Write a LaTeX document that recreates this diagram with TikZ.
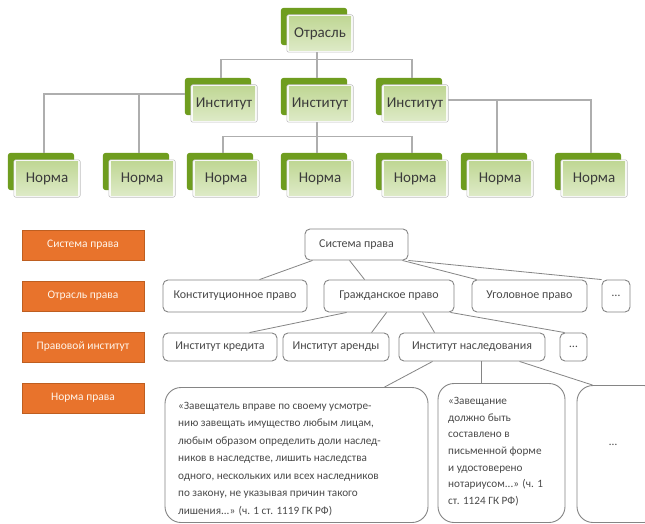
\documentclass[tikz,border=0pt]{standalone}
\usepackage{fontspec}
\setmainfont{Carlito}
\definecolor{gdark}{HTML}{6F9D1F}
\definecolor{gtop}{HTML}{C0D795}
\definecolor{gbot}{HTML}{DDEAC6}
\definecolor{tline}{HTML}{AEAEAE}
\definecolor{bline}{HTML}{858585}
\definecolor{orfill}{HTML}{E8732C}
\definecolor{ordraw}{HTML}{BE5E20}
\definecolor{txt}{HTML}{4A4A4A}
\begin{document}
\begin{tikzpicture}[x=1pt,y=-1pt,
  gframe/.style={rectangle,minimum width=72pt,minimum height=44pt,inner sep=0pt},
  gback/.style={fill=gdark,rounded corners=3pt},
  gfront/.style={fill=white,draw=gray!50,line width=0.6pt,rounded corners=2pt},
  ginner/.style={top color=gtop,bottom color=gbot},
  gtext/.style={font=\fontsize{15}{18}\selectfont,text=txt!80!black},
  tconn/.style={draw=tline,line width=1.3pt},
  bconn/.style={draw=bline,line width=0.8pt},
  obox/.style={rectangle,fill=orfill,draw=ordraw,line width=0.6pt,minimum width=122pt,minimum height=30pt,inner sep=0pt,text=white!92!orange,font=\fontsize{11.5}{14}\selectfont},
  wbox/.style={rectangle,draw=bline,fill=white,line width=0.9pt,rounded corners=5pt,inner sep=0pt,text=txt,font=\fontsize{12}{14}\selectfont},
  bigbox/.style={rectangle,draw=bline,fill=white,line width=0.9pt,rounded corners=16pt,inner sep=0pt}
]
\useasboundingbox (0,0) rectangle (645,524);
\fill[white] (0,0) rectangle (645,524);

\newcommand\gbox[4]{%
  \node[gframe] (#1) at (#2+36,#3+22) {};
  \fill[gback] (#1.north west) rectangle ([xshift=-6pt,yshift=7pt]#1.south east);
  \draw[gfront] ([xshift=6pt,yshift=-7pt]#1.north west) rectangle (#1.south east);
  \fill[ginner] ([xshift=8pt,yshift=-9pt]#1.north west) rectangle ([xshift=-2pt,yshift=2pt]#1.south east);
  \node[gtext] (#1t) at ([xshift=3pt,yshift=-3.5pt]#1.center) {#4};
}

% ---------- top tree: nodes
\gbox{o}{281}{8}{Отрасль}
\gbox{i1}{185}{78}{Институт}
\gbox{i2}{281}{78}{Институт}
\gbox{i3}{376}{78}{Институт}
\gbox{n1}{8}{153}{Норма}
\gbox{n2}{103}{153}{Норма}
\gbox{n3}{187}{153}{Норма}
\gbox{n4}{281}{153}{Норма}
\gbox{n5}{376}{153}{Норма}
\gbox{n6}{461}{153}{Норма}
\gbox{n7}{555}{153}{Норма}

% ---------- left orange legend
\node[obox] (l1) at (83,245) {Система права};
\node[obox] (l2) at (83,296) {Отрасль права};
\node[obox] (l3) at (83,347) {Правовой институт};
\node[obox] (l4) at (83,398) {Норма права};

% ---------- right tree nodes
\node[wbox,minimum width=103pt,minimum height=31pt] (sp) at (356.5,244.5) {Система права};
\node[wbox,minimum width=144pt,minimum height=32pt] (kp) at (235,296) {Конституционное право};
\node[wbox,minimum width=130pt,minimum height=32pt] (gp) at (389,296) {Гражданское право};
\node[wbox,minimum width=115pt,minimum height=32pt] (up) at (529.5,296) {Уголовное право};
\node[wbox,minimum width=28pt,minimum height=32pt] (d1) at (616,296) {…};
\node[wbox,minimum width=114pt,minimum height=28pt] (ik) at (220,347) {Институт кредита};
\node[wbox,minimum width=106pt,minimum height=28pt] (ia) at (336,347) {Институт аренды};
\node[wbox,minimum width=146pt,minimum height=28pt] (in) at (472,347) {Институт наследования};
\node[wbox,minimum width=27pt,minimum height=28pt] (d2) at (573.5,347) {…};

\node[bigbox,minimum width=263pt,minimum height=135pt] (b1) at (296.5,455) {};
\node[bigbox,minimum width=127pt,minimum height=139pt] (b2) at (501.5,453) {};
\node[bigbox,minimum width=83pt,minimum height=137pt] (b3) at (618.5,454) {};

\node[anchor=north west,align=left,inner sep=0pt,text=txt,font=\fontsize{11.2}{17.5}\selectfont] (b1t) at (178,402)
 {«Завещатель вправе по своему усмотре-\\нию завещать имущество любым лицам,\\любым образом определить доли наслед-\\ников в наследстве, лишить наследства\\одного, нескольких или всех наследников\\по закону, не указывая причин такого\\лишения...» (ч. 1 ст. 1119 ГК РФ)};
\node[anchor=north west,align=left,inner sep=0pt,text=txt,font=\fontsize{11.2}{16.7}\selectfont] (b2t) at (448,397)
 {«Завещание\\должно быть\\составлено в\\письменной форме\\и удостоверено\\нотариусом...» (ч. 1\\ст. 1124 ГК РФ)};
\node[text=txt,font=\fontsize{11.5}{14}\selectfont] (b3t) at (613,445) {…};

% ---------- top tree connectors
\draw[tconn] (o.south) -- (i2.north);
\draw[tconn] (i1.north) -- ++(0,-18) -| (i3.north);
\draw[tconn] ([yshift=6pt]i1.west) -| (n1.north);
\draw[tconn] (n2.north) |- ([yshift=6pt]i1.west);
\draw[tconn] (i2.south) -- (n4.north);
\draw[tconn] (n3.north) -- ++(0,-16) -| (n5.north);
\draw[tconn] (i3.east) -| (n7.north);
\draw[tconn] (n6.north) |- (i3.east);

% ---------- right tree connectors
\draw[bconn] ([xshift=8pt]sp.south west) -- ([xshift=97pt]kp.north west);
\draw[bconn] ([xshift=45pt]sp.south west) -- ([xshift=41pt]gp.north west);
\draw[bconn] ([xshift=-6pt]sp.south east) -- ([xshift=5pt]up.north west);
\draw[bconn] (sp.south east) -- (d1.north west);
\draw[bconn] ([xshift=23pt]gp.south west) -- ([xshift=87pt]ik.north west);
\draw[bconn] ([xshift=63pt]gp.south west) -- ([xshift=89pt]ia.north west);
\draw[bconn] ([xshift=99pt]gp.south west) -- ([xshift=36pt]in.north west);
\draw[bconn] ([xshift=-4pt]gp.south east) -- ([xshift=5pt]d2.north west);
\draw[bconn] ([xshift=34pt]in.south west) -- ([xshift=220pt]b1.north west);
\coordinate (inb) at ([xshift=83pt]in.south west);
\draw[bconn] (inb) -- (inb |- b2.north);
\draw[bconn] ([xshift=121pt]in.south west) -- ([xshift=16pt]b3.north west);
\end{tikzpicture}
\end{document}
